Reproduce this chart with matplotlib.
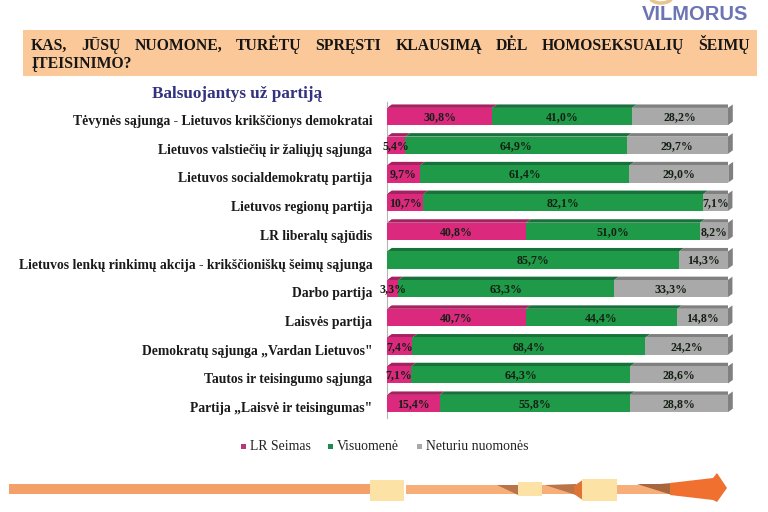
import matplotlib.pyplot as plt
from matplotlib.patches import Polygon, Rectangle, Arc
from matplotlib.transforms import ScaledTranslation
import numpy as np

question_line1 = ['KAS,', 'JŪSŲ', 'NUOMONE,', 'TURĖTŲ', 'SPRĘSTI', 'KLAUSIMĄ', 'DĖL', 'HOMOSEKSUALIŲ', 'ŠEIMŲ']
question_line2 = 'ĮTEISINIMO?'
subtitle = 'Balsuojantys už partiją'

parties = ['Tėvynės sąjunga - Lietuvos krikščionys demokratai',
           'Lietuvos valstiečių ir žaliųjų sąjunga',
           'Lietuvos socialdemokratų partija',
           'Lietuvos regionų partija',
           'LR liberalų sąjūdis',
           'Lietuvos lenkų rinkimų akcija - krikščioniškų šeimų sąjunga',
           'Darbo partija',
           'Laisvės partija',
           'Demokratų sąjunga „Vardan Lietuvos"',
           'Tautos ir teisingumo sąjunga',
           'Partija „Laisvė ir teisingumas"']
seimas = [30.8, 5.4, 9.7, 10.7, 40.8, 0, 3.3, 40.7, 7.4, 7.1, 15.4]
visuomene = [41.0, 64.9, 61.4, 82.1, 51.0, 85.7, 63.3, 44.4, 68.4, 64.3, 55.8]
neturiu = [28.2, 29.7, 29.0, 7.1, 8.2, 14.3, 33.3, 14.8, 24.2, 28.6, 28.8]
series_names = ['LR Seimas', 'Visuomenė', 'Neturiu nuomonės']

PINK, GREEN, GREY = '#DB2A7E', '#1F9A48', '#A9A9A9'
PINK_D, GREEN_D, GREY_D = '#A5215F', '#18703A', '#808080'
SERIF = 'Liberation Serif'

fig = plt.figure(figsize=(7.68, 5.12), dpi=100)

# full figure layer in pixels for the slide decoration
bg = fig.add_axes([0, 0, 1, 1])
bg.set_xlim(0, 768)
bg.set_ylim(512, 0)
bg.axis('off')

# question box, first line is justified like in the slide
bg.add_patch(Rectangle((23, 30), 734, 46, color='#FBC89A', lw=0))
renderer = fig.canvas.get_renderer()
words = [bg.text(31, 50, w, family=SERIF, weight='bold', fontsize=11.3, color='#151515', va='baseline')
         for w in question_line1]
widths = [w.get_window_extent(renderer).width for w in words]
gap = (750 - 31 - sum(widths)) / (len(words) - 1)
x = 31
for w, wd in zip(words, widths):
    w.set_x(x)
    x += wd + gap
bg.text(31, 68, question_line2, family=SERIF, weight='bold', fontsize=11.3, color='#151515', va='baseline')

bg.text(237.5, 93.5, subtitle, family=SERIF, weight='bold', fontsize=12.3, color='#32327E', ha='center', va='center')

# logo
bg.text(748, 14.5, 'VILMORUS', family='Liberation Sans', weight='bold', fontsize=14.5, color='#6C74B4', ha='right', va='center')
bg.add_patch(Arc((661, -3), 22, 12, theta1=0, theta2=180, color='#E8C48E', lw=2.5))

# arrow at the bottom
bg.add_patch(Rectangle((9, 484), 361, 10, color='#F4A069', lw=0))
bg.add_patch(Rectangle((406, 485), 266, 9, color='#F8AE78', lw=0))
bg.add_patch(Polygon([[497, 485], [518, 485], [518, 495]], color='#B9744A', lw=0))
bg.add_patch(Polygon([[545, 485], [576, 484], [576, 495]], color='#B9744A', lw=0))
bg.add_patch(Polygon([[574, 486], [584, 479], [584, 501], [574, 494]], color='#E07434', lw=0))
bg.add_patch(Polygon([[637, 484], [660, 484], [672, 483], [672, 495]], color='#A8663F', lw=0))
bg.add_patch(Polygon([[670, 483], [713, 478], [717, 473], [727, 488], [717, 502], [713, 500], [670, 495]], color='#F0702F', lw=0))
bg.add_patch(Rectangle((370, 480), 34, 21, color='#FCE3A5', lw=0))
bg.add_patch(Rectangle((518, 482), 24, 14, color='#FCE3A5', lw=0))
bg.add_patch(Rectangle((582, 479), 35, 22, color='#FCE3A5', lw=0))

# chart itself
ax = fig.add_axes([387 / 768, 1 - 417.85 / 512, 341 / 768, 315.7 / 512])
ax.set_xlim(0, 100)
ax.set_ylim(10.5, -0.5)
ax.patch.set_alpha(0)
for side in ['top', 'right', 'bottom']:
    ax.spines[side].set_visible(False)
ax.spines['left'].set_color('#B5B5B5')
ax.xaxis.set_visible(False)
ax.set_yticks(range(len(parties)))
ax.set_yticklabels(parties, family=SERIF, weight='bold', fontsize=9.8, color='#1A1A1A')
ax.tick_params(axis='y', length=0, pad=10.5)
shift = ScaledTranslation(0, -3.5 / 100, fig.dpi_scale_trans)
for lab in ax.get_yticklabels():
    lab.set_transform(lab.get_transform() + shift)

y = np.arange(len(parties))
h = 0.6
dx, dy = 1.4, 0.12  # depth of the fake 3d top and side
left = np.zeros(len(parties))
rows = [(seimas, PINK, PINK_D), (visuomene, GREEN, GREEN_D), (neturiu, GREY, GREY_D)]
for vals, col, dark in rows:
    vals = np.array(vals)
    ax.barh(y, vals, left=left, height=h, color=col, lw=0, zorder=3)
    for i in y:
        if vals[i] == 0:
            continue
        top = y[i] - h / 2
        x0, x1 = left[i], left[i] + vals[i]
        ax.add_patch(Polygon([[x0, top], [x1, top], [x1 + dx, top - dy], [x0 + dx, top - dy]],
                             color=dark, lw=0, zorder=2))
    left = left + vals

# right side of each stack
for i in y:
    top = y[i] - h / 2
    ax.add_patch(Polygon([[left[i], top], [left[i] + dx, top - dy], [left[i] + dx, top + h - dy], [left[i], top + h]],
                         color=GREY_D, lw=0, zorder=2, clip_on=False))

# value labels
left = np.zeros(len(parties))
for vals, col, dark in rows:
    for i in y:
        v = vals[i]
        if v > 0:
            ax.text(left[i] + v / 2, y[i] + 0.02, f'{v:.1f}%'.replace('.', ','), family=SERIF, weight='bold',
                    fontsize=8.6, color='#152015', ha='center', va='center', zorder=5, clip_on=False)
    left = left + np.array(vals)

# legend
leg_x = [241, 328, 417]
for name, lx, col in zip(series_names, leg_x, ['#B7387A', '#1F8A50', '#A9A9A9']):
    bg.add_patch(Rectangle((lx, 443.5), 5, 5, color=col, lw=0))
    bg.text(lx + 9, 446.5, name, family=SERIF, fontsize=9.9, color='#222222', va='center')

fig.savefig('out.png', dpi=100)
